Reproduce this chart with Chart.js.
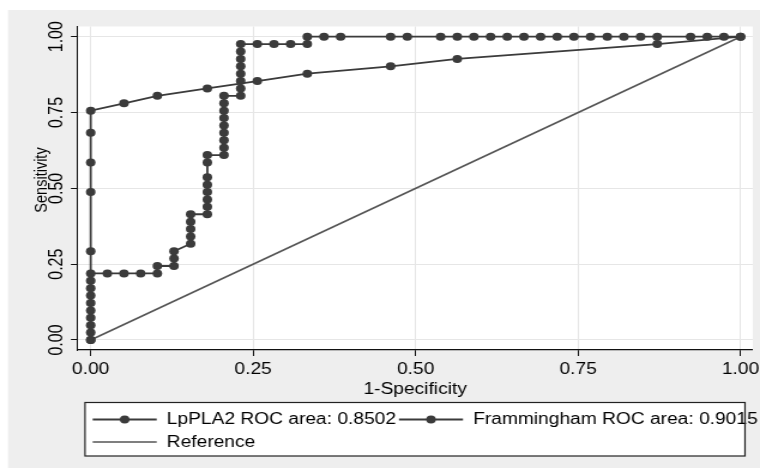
<!DOCTYPE html>
<html>
<head>
<meta charset="utf-8">
<script src="https://cdn.jsdelivr.net/npm/chart.js@4.4.1/dist/chart.umd.min.js"></script>
<style>
  html, body { margin: 0; padding: 0; background: #fff; }
  #wrap { width: 760px; height: 468px; overflow: hidden; }
  #roc { transform: scaleX(1.19874); transform-origin: 0 0; }
</style>
</head>
<body>
<div id="wrap"><canvas id="roc" width="634" height="468"></canvas></div>
<script>
const seriesNames = ['LpPLA2 ROC area: 0.8502', 'Frammingham ROC area: 0.9015', 'Reference'];

// LpPLA2 curve (1-specificity, sensitivity)
const lpplaFpr = [0, 0, 0, 0, 0, 0, 0, 0, 0, 0,
  0.0256, 0.0513, 0.0769, 0.1026, 0.1026, 0.1282, 0.1282, 0.1282,
  0.1538, 0.1538, 0.1538, 0.1538, 0.1538,
  0.1795, 0.1795, 0.1795, 0.1795, 0.1795, 0.1795, 0.1795, 0.1795,
  0.2051, 0.2051, 0.2051, 0.2051, 0.2051, 0.2051, 0.2051, 0.2051, 0.2051,
  0.2308, 0.2308, 0.2308, 0.2308, 0.2308, 0.2308, 0.2308, 0.2308,
  0.2564, 0.2821, 0.3077, 0.3333, 0.3333, 0.3590, 0.3846, 0.4615, 0.4872,
  0.5385, 0.5641, 0.5897, 0.6154, 0.6410, 0.6667, 0.6923, 0.7179, 0.7436,
  0.7692, 0.7949, 0.8205, 0.8462, 0.8718, 0.9231, 0.9487, 0.9744, 1];
const lpplaTpr = [0, 0.0244, 0.0488, 0.0732, 0.0976, 0.1220, 0.1463, 0.1707, 0.1951, 0.2195,
  0.2195, 0.2195, 0.2195, 0.2195, 0.2439, 0.2439, 0.2683, 0.2927,
  0.3171, 0.3415, 0.3659, 0.3902, 0.4146,
  0.4146, 0.4390, 0.4634, 0.4878, 0.5122, 0.5366, 0.5854, 0.6098,
  0.6098, 0.6341, 0.6585, 0.6829, 0.7073, 0.7317, 0.7561, 0.7805, 0.8049,
  0.8049, 0.8293, 0.8537, 0.8780, 0.9024, 0.9268, 0.9512, 0.9756,
  0.9756, 0.9756, 0.9756, 0.9756, 1, 1, 1, 1, 1,
  1, 1, 1, 1, 1, 1, 1, 1, 1,
  1, 1, 1, 1, 1, 1, 1, 1, 1];

// Framingham curve
const framFpr = [0, 0, 0, 0, 0, 0, 0.0513, 0.1026, 0.1795, 0.2564, 0.3333, 0.4615, 0.5641, 0.8718, 1];
const framTpr = [0, 0.2927, 0.4878, 0.5854, 0.6829, 0.7561, 0.7805, 0.8049, 0.8293, 0.8537, 0.8780, 0.9024, 0.9268, 0.9756, 1];

// diagonal reference
const refFpr = [0, 1];
const refTpr = [0, 1];

const xTicks = [0, 0.25, 0.5, 0.75, 1];
const yTicks = [0, 0.25, 0.5, 0.75, 1];
const xTitle = '1-Specificity';
const yTitle = 'Sensitivity';

(function () {
  const S = 760 / 634; // canvas is stretched sideways like the original export
  const ink = '#3b3b3b';
  const font = 'Liberation Sans, Arial, sans-serif';
  const toPoints = (xs, ys) => xs.map((x, i) => ({ x: x, y: ys[i] }));

  const panel = {
    id: 'panel',
    beforeDraw(chart) {
      const ctx = chart.ctx, a = chart.chartArea;
      ctx.save();
      ctx.fillStyle = '#fff';
      ctx.fillRect(0, 0, chart.width, chart.height);
      ctx.fillStyle = '#eeeeee';
      ctx.fillRect(8 / S, 10, chart.width, chart.height);
      ctx.fillStyle = '#fff';
      ctx.fillRect(a.left, a.top, a.right - a.left, a.bottom - a.top);
      ctx.restore();
    },
    afterDraw(chart) {
      // y title sits a little above the middle of the axis, as in the original
      const ctx = chart.ctx;
      ctx.save();
      ctx.translate(35, 180);
      ctx.rotate(-Math.PI / 2);
      ctx.font = '14.5px ' + font;
      ctx.fillStyle = '#000';
      ctx.textAlign = 'center';
      ctx.textBaseline = 'middle';
      ctx.fillText(yTitle, 0, 0);
      ctx.restore();
    }
  };

  const legendBox = {
    id: 'legendBox',
    afterDraw(chart) {
      const ctx = chart.ctx;
      const sets = chart.data.datasets;
      const left = 85 / S, right = 745 / S, top = 402.5, bottom = 456;
      ctx.save();
      ctx.fillStyle = '#fff';
      ctx.fillRect(left, top, right - left, bottom - top);
      ctx.font = '16px ' + font;
      ctx.textBaseline = 'middle';
      const rows = [[sets[0], sets[1]], [sets[2]]];
      const rowY = [419.5, 442];
      rows.forEach((row, r) => {
        let x = 77.3;
        const y = rowY[r];
        row.forEach(ds => {
          ctx.strokeStyle = ds.borderColor;
          ctx.lineWidth = ds.borderWidth;
          ctx.beginPath();
          ctx.moveTo(x, y);
          ctx.lineTo(x + 53.4, y);
          ctx.stroke();
          if (ds.pointRadius > 0) {
            ctx.fillStyle = ds.pointBackgroundColor;
            ctx.beginPath();
            ctx.arc(x + 26.7, y, ds.pointRadius, 0, Math.PI * 2);
            ctx.fill();
          }
          ctx.fillStyle = '#000';
          ctx.fillText(ds.label, x + 61.8, y + 0.5);
          x += 61.8 + ctx.measureText(ds.label).width + 2.5;
        });
      });
      ctx.strokeStyle = '#222';
      ctx.lineWidth = 1.2;
      ctx.strokeRect(left, top, right - left, bottom - top);
      ctx.restore();
    }
  };

  new Chart(document.getElementById('roc'), {
    type: 'scatter',
    data: {
      datasets: [{
        label: seriesNames[0],
        data: toPoints(lpplaFpr, lpplaTpr),
        showLine: true,
        borderColor: ink,
        borderWidth: 1.8,
        pointRadius: 4,
        pointBackgroundColor: ink,
        pointBorderColor: ink,
        pointBorderWidth: 0
      }, {
        label: seriesNames[1],
        data: toPoints(framFpr, framTpr),
        showLine: true,
        borderColor: ink,
        borderWidth: 1.8,
        pointRadius: 4,
        pointBackgroundColor: ink,
        pointBorderColor: ink,
        pointBorderWidth: 0
      }, {
        label: seriesNames[2],
        data: toPoints(refFpr, refTpr),
        showLine: true,
        borderColor: '#555555',
        borderWidth: 1.6,
        pointRadius: 0
      }]
    },
    options: {
      responsive: false,
      devicePixelRatio: 1,
      animation: false,
      events: [],
      layout: { padding: { left: 0, top: 26.5, right: 634 - 752.7 / S, bottom: 0 } },
      plugins: {
        legend: { display: false },
        tooltip: { enabled: false }
      },
      scales: {
        x: {
          type: 'linear',
          position: 'bottom',
          min: -0.0203,
          max: 1.0187,
          afterBuildTicks: s => { s.ticks = xTicks.map(v => ({ value: v })); },
          afterFit: s => { s.height = 118; s.paddingLeft = 0; s.paddingRight = 0; },
          ticks: {
            callback: v => v.toFixed(2),
            font: { family: font, size: 16 },
            color: '#000',
            padding: 4,
            maxRotation: 0,
            autoSkip: false
          },
          grid: { color: '#e6e6e6', tickColor: '#111', tickLength: 6, lineWidth: 1 },
          border: { display: true, color: '#111', width: 1.2 },
          title: {
            display: true,
            text: xTitle,
            font: { family: font, size: 16 },
            color: '#000',
            padding: { top: 0, bottom: 69 }
          }
        },
        y: {
          type: 'linear',
          min: -0.033,
          max: 1.0336,
          afterBuildTicks: s => { s.ticks = yTicks.map(v => ({ value: v })); },
          afterFit: s => { s.width = 77.5 / S; s.paddingTop = 0; s.paddingBottom = 0; },
          ticks: {
            callback: v => v.toFixed(2),
            font: { family: font, size: 16 },
            color: '#000',
            minRotation: 90,
            maxRotation: 90,
            crossAlign: 'center',
            padding: -4,
            autoSkip: false
          },
          grid: { color: '#e6e6e6', tickColor: '#111', tickLength: 5.5, lineWidth: 1 },
          border: { display: true, color: '#111', width: 1 },
          title: { display: false, text: yTitle }
        }
      }
    },
    plugins: [panel, legendBox]
  });
})();
</script>
</body>
</html>
